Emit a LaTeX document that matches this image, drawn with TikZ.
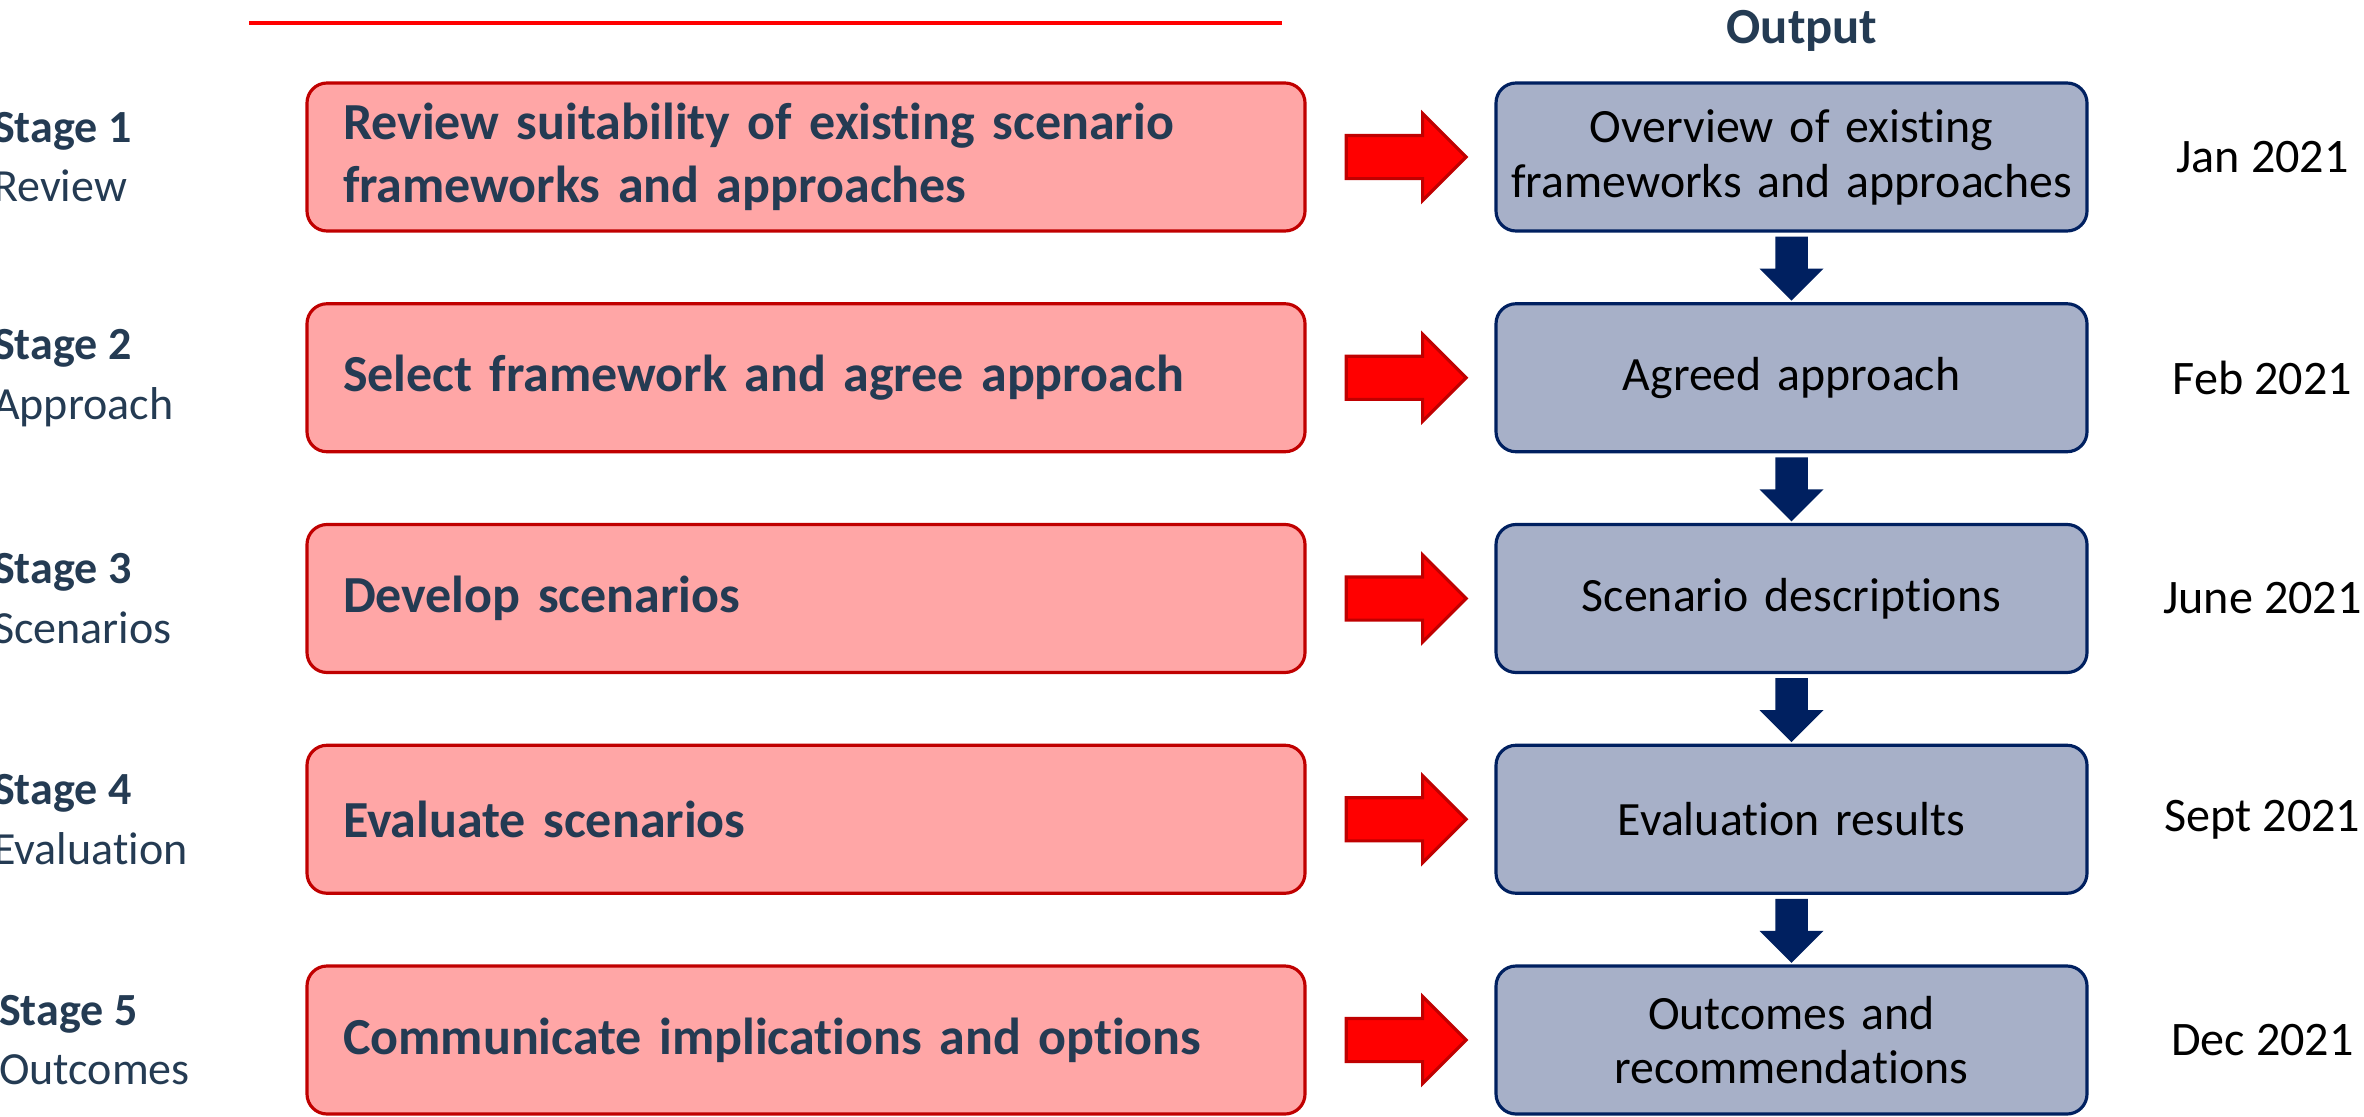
\documentclass[tikz,border=0pt]{standalone}
\usepackage{fontspec}
\setmainfont{Carlito}[Ligatures=CommonOff]
\usepackage{xcolor}
\usetikzlibrary{shapes.arrows,calc}

\definecolor{taskred}{HTML}{FFA6A6}
\definecolor{darkred}{HTML}{C00000}
\definecolor{outblue}{HTML}{A7B0C8}
\definecolor{navy}{HTML}{002060}
\definecolor{slate}{HTML}{243B53}

\begin{document}
\begin{tikzpicture}[node distance=2.2075cm]
		\tikzstyle{task}=[draw=darkred,fill=taskred,line width=0.9pt,rounded corners=0.2cm,minimum height=1.48cm,inner xsep=0.36cm,inner ysep=0pt,text width=9.26cm,align=left,text=slate,font=\fontsize{14.8}{17.9}\selectfont\bfseries]
		\tikzstyle{output}=[draw=navy,fill=outblue,line width=0.9pt,rounded corners=0.2cm,minimum height=1.48cm,inner xsep=0.05cm,inner ysep=0pt,text width=5.81cm,align=center,font=\fontsize{13.6}{15.6}\selectfont]
		\tikzstyle{redarrow}=[single arrow,draw=darkred,fill=red,line width=0.9pt,minimum height=1.2cm,single arrow head extend=0.22cm,inner xsep=0pt,inner ysep=0.2cm,anchor=tail]
		\tikzstyle{downarrow}=[single arrow,shape border rotate=270,draw=navy,fill=navy,line width=0.5pt,minimum height=0.62cm,single arrow head extend=0.145cm,inner sep=0.145cm,anchor=tail]
		\tikzstyle{stage}=[anchor=west,align=left,inner sep=0pt,text=slate,font=\fontsize{13.1}{17}\selectfont]
		\tikzstyle{date}=[inner sep=0pt,font=\fontsize{13.7}{16}\selectfont]
		\tikzstyle{heading}=[anchor=base,inner sep=0pt,text=slate,font=\fontsize{14.4}{17}\selectfont\bfseries]

		\useasboundingbox (0,0) rectangle (23.64,11.16);

		% header
		\draw [red,line width=0.04cm] (2.49,10.93) -- (12.82,10.93);
		\node [heading] (outhead) at (18.02,10.72) {Output};

		% activities
		\node [task] (task1) at (8.06,9.59) {Review suitability of existing scenario\\frameworks and approaches};
		\node [task] (task2) [below of=task1] {Select framework and agree approach};
		\node [task] (task3) [below of=task2] {Develop scenarios};
		\node [task] (task4) [below of=task3] {Evaluate scenarios};
		\node [task] (task5) [below of=task4] {Communicate implications and options};

		% outputs
		\node [output] (out1) [node distance=9.855cm,right of=task1] {Overview of existing\\frameworks and approaches};
		\node [output] (out2) [below of=out1] {Agreed approach};
		\node [output] (out3) [below of=out2] {Scenario descriptions};
		\node [output] (out4) [below of=out3] {Evaluation results};
		\node [output] (out5) [below of=out4] {Outcomes and\\recommendations};

		% stages
		\node [stage] (st1) at (task1.west) [xshift=-3.13cm] {\textbf{Stage 1}\\Review};
		\node [stage] (st2) at (task2.west) [xshift=-3.13cm] {\textbf{Stage 2}\\Approach};
		\node [stage] (st3) at (task3.west) [xshift=-3.13cm] {\textbf{Stage 3}\\Scenarios};
		\node [stage] (st4) at (task4.west) [xshift=-3.13cm] {\textbf{Stage 4}\\Evaluation};
		\node [stage] (st5) at (task5.west) [xshift=-3.07cm] {\textbf{Stage 5}\\Outcomes};

		% dates
		\node [date] (d1) [node distance=4.71cm,right of=out1] {Jan 2021};
		\node [date] (d2) [node distance=4.71cm,right of=out2] {Feb 2021};
		\node [date] (d3) [node distance=4.71cm,right of=out3] {June 2021};
		\node [date] (d4) [node distance=4.71cm,right of=out4] {Sept 2021};
		\node [date] (d5) [node distance=4.71cm,right of=out5] {Dec 2021};

		% arrows
		\node [redarrow] (a1) at (task1.east) [xshift=0.38cm] {};
		\node [redarrow] (a2) at (task2.east) [xshift=0.38cm] {};
		\node [redarrow] (a3) at (task3.east) [xshift=0.38cm] {};
		\node [redarrow] (a4) at (task4.east) [xshift=0.38cm] {};
		\node [redarrow] (a5) at (task5.east) [xshift=0.38cm] {};

		\node [downarrow] (b1) at (out1.south) [yshift=-0.04cm] {};
		\node [downarrow] (b2) at (out2.south) [yshift=-0.04cm] {};
		\node [downarrow] (b3) at (out3.south) [yshift=-0.04cm] {};
		\node [downarrow] (b4) at (out4.south) [yshift=-0.04cm] {};

	\end{tikzpicture}
\end{document}
